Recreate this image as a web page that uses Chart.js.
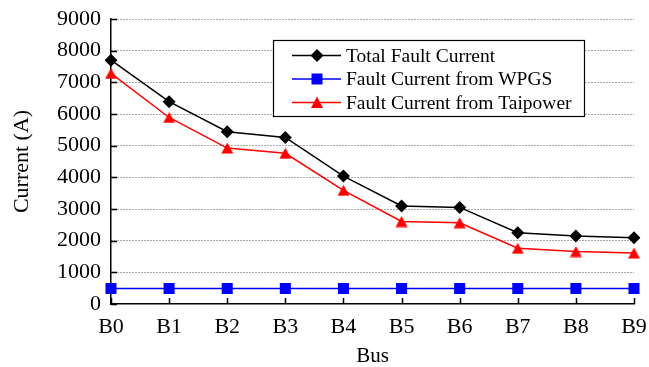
<!DOCTYPE html>
<html>
<head>
<meta charset="utf-8">
<script src="https://cdn.jsdelivr.net/npm/chart.js@4/dist/chart.umd.min.js"></script>
<style>
  html, body { margin: 0; padding: 0; background: #fff; }
  #wrap { width: 649px; height: 367px; }
</style>
</head>
<body>
<div id="wrap"><canvas id="chart" width="649" height="367"></canvas></div>
<script>
const buses = ['B0', 'B1', 'B2', 'B3', 'B4', 'B5', 'B6', 'B7', 'B8', 'B9'];
const totalFault = [7700, 6390, 5440, 5260, 4040, 3095, 3050, 2250, 2145, 2095];
const wpgsFault = [490, 490, 490, 490, 490, 490, 490, 490, 490, 490];
const taipowerFault = [7280, 5890, 4925, 4760, 3590, 2605, 2565, 1760, 1657, 1610];
const yTicks = [0, 1000, 2000, 3000, 4000, 5000, 6000, 7000, 8000, 9000];

const serif = '"Liberation Serif", "Times New Roman", serif';

// triangle centred on its bounding box, like the original plot's markers
function triangleImage(color) {
    const c = document.createElement('canvas');
    c.width = 13;
    c.height = 12;
    const g = c.getContext('2d');
    g.fillStyle = color;
    g.beginPath();
    g.moveTo(6.5, 0.5);
    g.lineTo(12.5, 11.5);
    g.lineTo(0.5, 11.5);
    g.closePath();
    g.fill();
    return c;
}
const redTriangle = triangleImage('#ff0000');

const legendItems = [
    { label: 'Total Fault Current', color: '#000000', shape: 'diamond' },
    { label: 'Fault Current from WPGS', color: '#0000ff', shape: 'square' },
    { label: 'Fault Current from Taipower', color: '#ff0000', shape: 'triangle' }
];

function drawShape(ctx, shape, x, y) {
    ctx.beginPath();
    if (shape === 'diamond') {
        ctx.moveTo(x, y - 6.5); ctx.lineTo(x + 6.5, y); ctx.lineTo(x, y + 6.5); ctx.lineTo(x - 6.5, y);
    } else if (shape === 'square') {
        ctx.rect(x - 5.5, y - 5.5, 11, 11);
    } else {
        ctx.moveTo(x, y - 6); ctx.lineTo(x + 6, y + 5.5); ctx.lineTo(x - 6, y + 5.5);
    }
    ctx.closePath();
    ctx.fill();
}

const extras = {
    id: 'extras',
    afterDraw(chart) {
        const ctx = chart.ctx;
        const area = chart.chartArea;
        const xs = chart.scales.x;
        const ys = chart.scales.y;
        ctx.save();
        // ticks point into the plot
        ctx.strokeStyle = '#000';
        ctx.lineWidth = 1.5;
        ctx.beginPath();
        yTicks.forEach(v => {
            const py = Math.round(ys.getPixelForValue(v)) + 0.5;
            ctx.moveTo(area.left, py);
            ctx.lineTo(area.left + 6, py);
        });
        buses.forEach((b, i) => {
            const px = Math.round(xs.getPixelForValue(i)) + 0.5;
            ctx.moveTo(px, area.bottom);
            ctx.lineTo(px, area.bottom - 6);
        });
        ctx.stroke();

        // legend box
        const bx = 273.5, by = 40.5, bw = 311, bh = 76;
        ctx.fillStyle = '#fff';
        ctx.fillRect(bx, by, bw, bh);
        ctx.strokeStyle = '#000';
        ctx.lineWidth = 1.2;
        ctx.strokeRect(bx, by, bw, bh);
        ctx.font = '19.5px ' + serif;
        ctx.textBaseline = 'middle';
        ctx.textAlign = 'left';
        legendItems.forEach((item, i) => {
            const cy = 55.5 + i * 23.5;
            ctx.strokeStyle = item.color;
            ctx.fillStyle = item.color;
            ctx.lineWidth = 1.5;
            ctx.beginPath();
            ctx.moveTo(292, cy);
            ctx.lineTo(341, cy);
            ctx.stroke();
            drawShape(ctx, item.shape, 317, cy);
            ctx.fillStyle = '#000';
            ctx.fillText(item.label, 346, cy + 1);
        });
        ctx.restore();
    }
};

new Chart(document.getElementById('chart'), {
    type: 'line',
    data: {
        labels: buses,
        datasets: [
            {
                label: 'Total Fault Current',
                data: totalFault,
                borderColor: '#000000',
                backgroundColor: '#000000',
                borderWidth: 1.5,
                pointStyle: 'rectRot',
                pointRadius: 6.5,
                pointBorderWidth: 0,
                tension: 0
            },
            {
                label: 'Fault Current from WPGS',
                data: wpgsFault,
                borderColor: '#0000ff',
                backgroundColor: '#0000ff',
                borderWidth: 1.5,
                pointStyle: 'rect',
                pointRadius: 7.8,
                pointBorderWidth: 0,
                tension: 0
            },
            {
                label: 'Fault Current from Taipower',
                data: taipowerFault,
                borderColor: '#ff0000',
                backgroundColor: '#ff0000',
                borderWidth: 1.5,
                pointStyle: redTriangle,
                pointRadius: 6,
                pointBorderWidth: 0,
                tension: 0
            }
        ]
    },
    options: {
        responsive: false,
        animation: false,
        devicePixelRatio: 1,
        layout: { padding: { left: 0, right: 0, top: 19, bottom: 0 } },
        plugins: {
            legend: { display: false },
            tooltip: { enabled: false }
        },
        scales: {
            x: {
                offset: false,
                grid: { display: false, drawTicks: false },
                border: { display: true, color: '#000', width: 1.5 },
                ticks: {
                    color: '#000',
                    font: { family: serif, size: 22 },
                    padding: 10,
                    maxRotation: 0,
                    autoSkip: false
                },
                title: {
                    display: true,
                    text: 'Bus',
                    color: '#000',
                    font: { family: serif, size: 21, lineHeight: 1 },
                    padding: { top: 6, bottom: 0 }
                },
                afterFit(scale) {
                    scale.height = 63;
                    scale.paddingRight = 15;
                }
            },
            y: {
                min: 0,
                max: 9000,
                afterBuildTicks(scale) { scale.ticks = yTicks.map(v => ({ value: v })); },
                grid: {
                    drawTicks: false,
                    color: ctx => (ctx.tick && ctx.tick.value === 0) ? 'rgba(0,0,0,0)' : '#555',
                    lineWidth: 1
                },
                border: { display: true, color: '#000', width: 1.5, dash: [1, 2] },
                ticks: {
                    color: '#000',
                    font: { family: serif, size: 22 },
                    padding: 10,
                    callback: v => String(v)
                },
                title: {
                    display: true,
                    text: 'Current (A)',
                    color: '#000',
                    font: { family: serif, size: 22 },
                    padding: { top: 9, bottom: 0 }
                },
                afterFit(scale) {
                    scale.width = 111;
                    scale.paddingTop = 0;
                }
            }
        }
    },
    plugins: [extras]
});
</script>
</body>
</html>
